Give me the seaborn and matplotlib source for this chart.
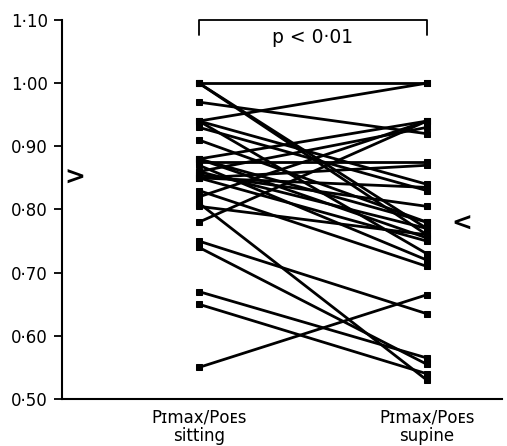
import matplotlib
matplotlib.use("Agg")
import matplotlib.pyplot as plt
import seaborn as sns
import pandas as pd

# Data
sitting = [1.00, 1.00, 1.00, 0.97, 0.94, 0.94, 0.93, 0.91, 0.88, 0.88,
           0.875, 0.87, 0.86, 0.86, 0.855, 0.85, 0.85, 0.83, 0.82, 0.81,
           0.805, 0.78, 0.75, 0.74, 0.67, 0.65, 0.55, 0.94, 0.85, 0.88]
supine = [1.00, 0.77, 0.76, 0.92, 1.00, 0.84, 0.83, 0.78, 0.94, 0.755,
          0.875, 0.72, 0.93, 0.77, 0.805, 0.87, 0.75, 0.71, 0.94, 0.53,
          0.76, 0.94, 0.635, 0.555, 0.565, 0.54, 0.665, 0.73, 0.835, 0.78]
conditions = ["Pɪmax/Pᴏᴇꜱ\nsitting", "Pɪmax/Pᴏᴇꜱ\nsupine"]
yticks = [0.50, 0.60, 0.70, 0.80, 0.90, 1.00, 1.10]
ytick_labels = ["0·50", "0·60", "0·70", "0·80", "0·90", "1·00", "1·10"]
mean_sitting = 0.85
mean_supine = 0.777
p_text = "p < 0·01"

rows = []
for i, (a, b) in enumerate(zip(sitting, supine)):
    rows.append({"id": i, "x": 0, "v": a})
    rows.append({"id": i, "x": 1, "v": b})
df = pd.DataFrame(rows)

sns.set_style("white")
plt.rcParams["font.family"] = ["DejaVu Sans"]
plt.rcParams["text.color"] = "black"
plt.rcParams["xtick.color"] = "black"
plt.rcParams["ytick.color"] = "black"
plt.rcParams["xtick.labelcolor"] = "black"
plt.rcParams["ytick.labelcolor"] = "black"

fig = plt.figure(figsize=(5.07, 4.46), dpi=100)
ax = fig.add_axes([62 / 507, 47 / 446, 440 / 507, 379 / 446])

sns.lineplot(data=df, x="x", y="v", units="id", estimator=None,
             color="black", linewidth=2.0, marker="s", markersize=4.5,
             markeredgecolor="black", ax=ax, legend=False)

ax.set_xlim(-0.601, 1.33)
ax.set_ylim(0.50, 1.10)
ax.set_yticks(yticks)
ax.set_yticklabels(ytick_labels, fontsize=12)
ax.set_xticks([0, 1])
ax.set_xticklabels(conditions, fontsize=12, linespacing=1.05)
ax.tick_params(axis="x", length=0, pad=7)
ax.tick_params(axis="y", length=6, width=1.3, direction="out", left=True, pad=4)
ax.set_xlabel("")
ax.set_ylabel("")
for s in ["top", "right"]:
    ax.spines[s].set_visible(False)
for s in ["left", "bottom"]:
    ax.spines[s].set_color("black")
    ax.spines[s].set_linewidth(1.5)

# significance bracket
ax.plot([0, 0, 1, 1], [1.077, 1.10, 1.10, 1.077], color="black", lw=1.3,
        clip_on=False)
ax.text(0.5, 1.073, p_text, ha="center", va="center", fontsize=13.5)

# mean markers
ax.text(-0.545, mean_sitting, ">", ha="center", va="center", fontsize=18,
        fontweight="bold")
ax.text(1.153, mean_supine, "<", ha="center", va="center", fontsize=18,
        fontweight="bold")

fig.savefig("out.png", dpi=100)
